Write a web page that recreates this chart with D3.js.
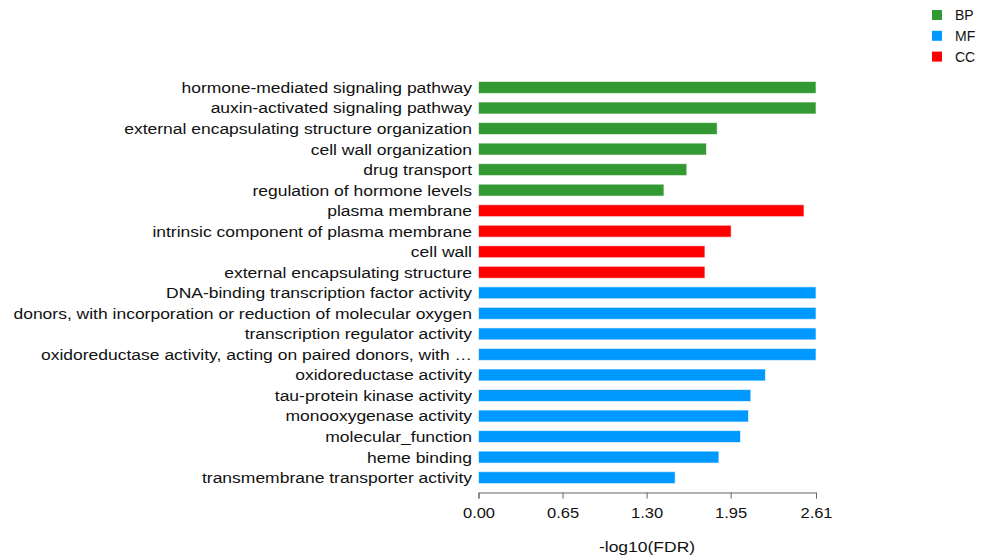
<!DOCTYPE html>
<html><head><meta charset="utf-8">
<script src="https://cdn.jsdelivr.net/npm/d3@7"></script>
<style>body{margin:0;background:#fff;} svg{display:block;font-family:"Liberation Sans",Arial,sans-serif;}</style>
</head><body><svg id="c" width="981" height="556"></svg>
<script>
const categories = [
 "hormone-mediated signaling pathway","auxin-activated signaling pathway","external encapsulating structure organization","cell wall organization","drug transport","regulation of hormone levels",
 "plasma membrane","intrinsic component of plasma membrane","cell wall","external encapsulating structure",
 "DNA-binding transcription factor activity","donors, with incorporation or reduction of molecular oxygen","transcription regulator activity","oxidoreductase activity, acting on paired donors, with …","oxidoreductase activity","tau-protein kinase activity","monooxygenase activity","molecular_function","heme binding","transmembrane transporter activity"
];
const groups = ["BP","BP","BP","BP","BP","BP","CC","CC","CC","CC","MF","MF","MF","MF","MF","MF","MF","MF","MF","MF"];
const values = [2.61,2.61,1.846,1.763,1.611,1.434,2.517,1.954,1.751,1.751,2.61,2.61,2.61,2.61,2.219,2.106,2.088,2.026,1.859,1.521];
const tickValues = [0,0.65,1.30,1.95,2.61];
const legendNames = ["BP","MF","CC"];
const colors = {BP:"#339933",MF:"#0099FF",CC:"#FF0000"};

const svg = d3.select("#c");
const x = d3.scaleLinear().domain([0,2.61]).range([478.5,816]);
const y = d3.scaleBand().domain(categories).range([77.2,487.9]).paddingInner(0.42).paddingOuter(0.21);

svg.append("g").selectAll("rect").data(categories).join("rect")
  .attr("x", x(0)).attr("y", d=>y(d))
  .attr("width", (d,i)=>x(values[i])-x(0)).attr("height", y.bandwidth())
  .attr("fill", (d,i)=>colors[groups[i]])
  .attr("stroke", "rgba(255,255,255,0.6)").attr("stroke-width",1);

svg.append("g").selectAll("text").data(categories).join("text")
  .attr("transform", d=>`translate(472,${y(d)+y.bandwidth()/2}) scale(1.128,1)`)
  .attr("dy","0.35em").attr("text-anchor","end")
  .attr("font-size",15.5).attr("fill","#111").text(d=>d);

const ax = svg.append("g").attr("transform","translate(0,492.5)")
  .call(d3.axisBottom(x).tickValues(tickValues).tickFormat(d3.format(".2f")).tickSize(6).tickSizeOuter(6));
ax.select(".domain").attr("stroke","#666");
ax.selectAll(".tick line").attr("stroke","#666");
ax.selectAll(".tick text").attr("font-size",15).attr("fill","#111").attr("font-family","Liberation Sans, Arial, sans-serif")
  .attr("x",0).attr("y",20).attr("dy","0.35em").attr("transform","scale(1.1,1)");

svg.append("text").attr("transform","translate(647,547) scale(1.128,1)").attr("dy","0.35em").attr("text-anchor","middle")
  .attr("font-size",15.5).attr("fill","#111").text("-log10(FDR)");

const lg = svg.append("g").selectAll("g").data(legendNames).join("g")
  .attr("transform",(d,i)=>`translate(932,${10+i*20.8})`);
lg.append("rect").attr("width",10).attr("height",10).attr("fill",d=>colors[d]);
lg.append("text").attr("x",23).attr("y",5).attr("dy","0.35em").attr("font-size",14).attr("fill","#111").text(d=>d);
</script></body></html>
